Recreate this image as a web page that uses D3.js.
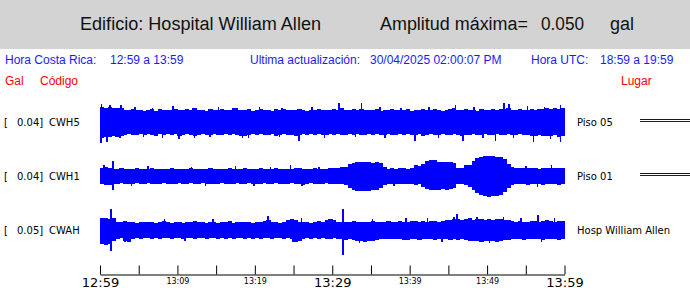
<!DOCTYPE html>
<html><head><meta charset="utf-8">
<script src="https://cdn.jsdelivr.net/npm/d3@7"></script>
<style>html,body{margin:0;padding:0;background:#fff;overflow:hidden}</style>
</head><body><svg id="c" width="690" height="288"></svg>
<script>
// ---------- data ----------
const stations = ["CWH5", "CWH1", "CWAH"];
const maxGal = ["0.04", "0.04", "0.05"];
const places = ["Piso 05", "Piso 01", "Hosp William Allen"];
const hasMarker = [true, true, false];
// envelope in mGal, one value per 0.5 minute from 12:59
const CWH5_top = [30,29,31,28,29,28, 25,24,27,24,25,23, 24,26,23,27,24,25, 24,27,25,24,26,24, 28,24,25,23,27,25, 24,26,24,25,28,24, 25,24,27,23,25,26, 24,25,23,27,24,27, 24,25,24,26,25,23, 25,24,27,24,25,24, 26,24,28,25,24,26, 25,27,24,25,24,26, 23,25,24,26,24,25, 24,26,23,25,24,26, 25,24,26,25,23,25, 26,28,25,24,26,24, 25,23,26,24,25,26, 24,26,27,28,25,24, 26,25,24,27,25,26, 27,28,26,28,27,29];
const CWH5_bot = [32,30,29,28,30,28, 25,24,26,25,24,26, 24,25,27,24,25,24, 26,24,28,25,24,26, 27,25,24,26,25,24, 25,26,24,25,24,26, 28,27,26,24,25,24, 26,25,24,27,25,24, 25,26,28,25,24,26, 24,25,24,26,25,24, 25,24,26,25,24,26, 24,25,26,24,25,24, 26,25,24,25,26,24, 25,24,26,25,24,27, 25,24,26,25,24,26, 25,24,26,27,26,25, 24,26,25,24,26,25, 24,26,25,24,26,25, 24,26,25,27,28,26, 27,28,27,26,29,28];
const CWH1_top = [17,19,16, 15,14,16,15,14,15,16,14,15, 15,16,14,15,15,14,16,15,14, 15,14,16,15,15,14,15,16,14, 15,15,14,16,15,14,15,16,15, 14,15,16,14,15,15,16,14,15, 15,14,16,17,15,14,15,16,15, 14,15,16, 16,17,18,19, 25,27,28,29,28,29,27,28,26, 19, 15,16,15,17,16,15,16, 22,20, 25,31,33,32,29,28,29,28,27, 17,16,22, 23,31,36,38,40,41,40,39,38,34,25, 18,17,16,17,16,17,16,15,17,16,17,16,17,16];
const CWH1_bot = [16,18,17, 15,16,14,15,16,15,14,15,16, 14,15,16,15,14,16,15,15,14, 16,15,14,15,16,14,15,15,16, 15,14,16,15,15,14,16,15,14, 15,16,15,14,15,16,14,15,15, 16,14,15,15,17,15,14,16,15, 15,14,15, 15,16,16,17, 23,28,30,30,29,30,28,27,24, 18, 15,16,15,16,15,16,15, 17,16, 21,25,27,28,27,26,27,25,23, 16,15,17, 21,28,33,37,39,41,40,39,37,31,23, 17,16,15,16,17,16,15,16,17,16,15,16,17,16];
const CWAH_top = [24,25,23,24, 17,16,18,16,17,15,16,17, 16,17,15,16,18,16,15,17, 16,15,17,16,18,16,17,15, 17,16,15,17,16,18,15,16, 16,17,16,15,17,16,18,20, 17,16,15,17,21,23,20,17, 16,17,15,16,18,16,21,22, 20,17,16,17,16,18,17,16, 17,16,18,17,16,17,18,16, 17,18,16,17,19,18,17,18, 17,18,19,17,18,20,21,22, 23,21,22,24,21,22,23,21, 22,21,23,22,21,20,18,17, 18,17,16,18,19,17,18,20, 19,17,18,19];
const CWAH_bot = [28,30,27,22, 17,16,22,23,17,16,17,16, 15,17,16,18,16,15,17,16, 16,17,15,16,17,16,15,17, 16,15,17,16,18,16,17,16, 15,17,16,18,16,17,15,16, 17,16,15,17,16,18,23,22, 17,16,18,16,17,16,18,17, 16,18,17,19,18,20,22,21, 23,22,21,20,18,17,18,17, 18,17,19,20,18,17,19,18, 17,18,19,17,18,17,19,18, 19,18,20,21,22,21,23,22, 21,22,23,22,20,19,18,17, 18,19,17,18,17,18,19,18, 17,18,19,18];
// isolated peaks: [minutes after 12:59, mGal]
const CWH5_up = [[0.2,37],[1.3,34],[2.7,34],[4.5,30],[6.8,29],[9.4,32],[12.0,29],[15.3,30],[17.7,29],[20.6,30],[23.5,29],[27.4,31],[30.9,38],[33.8,38],[36.2,30],[38.9,29],[42.5,31],[45.9,35],[48.3,31],[52.2,38],[52.8,36],[55.2,32],[57.4,31],[59.5,35]];
const CWH5_down = [[0.1,42],[0.9,39],[2.6,31],[5.6,30],[8.1,31],[10.2,34],[12.2,32],[14.2,30],[18.4,32],[19.2,31],[23.2,29],[25.7,37],[29.0,31],[33.0,30],[36.8,31],[40.7,37],[43.7,32],[46.9,38],[49.5,31],[51.1,37],[53.4,32],[56.0,39],[58.2,33],[59.5,39]];
const CWH1_up = [[0.5,23],[1.7,30],[6.2,20],[11.8,19],[17.5,20],[22.0,19],[24.6,22],[28.3,19],[55.0,21],[58.3,22]];
const CWH1_down = [[1.7,28],[4.1,20],[13.6,19],[19.9,20],[26.1,20],[38.0,20],[56.5,21]];
const CWAH_up = [[1.45,42],[8.3,23],[14.6,22],[21.7,29],[26.0,24],[31.4,43],[35.2,23],[39.5,24],[42.3,25],[45.7,27],[46.1,33],[48.7,27],[52.1,27],[54.4,24],[56.6,30],[58.7,25]];
const CWAH_down = [[1.0,30],[1.45,41],[3.2,24],[11.0,22],[24.9,24],[31.4,49],[33.5,25],[44.2,24],[50.3,25],[57.0,23]];
const tickMinutes = [0,5,10,15,20,25,30,35,40,45,50,55,60];
const tickLabels = ["12:59","","13:09","","13:19","","13:29","","13:39","","13:49","","13:59"];
const bigLabels = ["12:59","13:29","13:59"];

const tops = [CWH5_top, CWH1_top, CWAH_top];
const bots = [CWH5_bot, CWH1_bot, CWAH_bot];
const ups = [CWH5_up, CWH1_up, CWAH_up];
const downs = [CWH5_down, CWH1_down, CWAH_down];

// ---------- drawing ----------
const svg = d3.select("#c");
const start = new Date(2025, 3, 30, 12, 59);
const at = m => new Date(start.getTime() + m * 60000);
const x = d3.scaleTime().domain([start, at(60)]).range([100, 564.5]);
const yc = d3.scalePoint().domain(stations).range([122, 230]);
const amp = d3.scaleLinear().domain([0, 50]).range([0, 25]); // mGal -> px
const STEP = 0.5;
const BLUE = "#0000ff";

// header
svg.append("rect").attr("x", 0).attr("y", 0).attr("width", 690).attr("height", 49).attr("fill", "#d3d3d3");
const hdr = [["Edificio: Hospital William Allen", 80, 241], ["Amplitud máxima=", 380, 148], ["0.050", 541, 43], ["gal", 610, 24]];
svg.selectAll("text.h").data(hdr).join("text").attr("class", "h")
  .attr("x", d => d[1]).attr("y", 30)
  .attr("font-family", "Liberation Sans, Arial, sans-serif").attr("font-size", 18).attr("fill", "#111")
  .attr("textLength", d => d[2]).attr("lengthAdjust", "spacingAndGlyphs")
  .text(d => d[0]);

const blueRow = [["Hora Costa Rica:", 5], ["12:59 a 13:59", 110], ["Ultima actualización:", 250], ["30/04/2025 02:00:07 PM", 370], ["Hora UTC:", 531], ["18:59 a 19:59", 600]];
svg.selectAll("text.b").data(blueRow).join("text").attr("class", "b")
  .attr("x", d => d[1]).attr("y", 64)
  .attr("font-family", "Liberation Sans, Arial, sans-serif").attr("font-size", 12).attr("fill", "#1a1aff")
  .text(d => d[0]);
const redRow = [["Gal", 5], ["Código", 40], ["Lugar", 621]];
svg.selectAll("text.r").data(redRow).join("text").attr("class", "r")
  .attr("x", d => d[1]).attr("y", 85)
  .attr("font-family", "Liberation Sans, Arial, sans-serif").attr("font-size", 12).attr("fill", "#ff0000")
  .text(d => d[0]);

// traces
stations.forEach((s, k) => {
  const c = yc(s);
  const g = svg.append("g").attr("shape-rendering", "crispEdges");
  g.selectAll("rect.e").data(tops[k]).join("rect").attr("class", "e")
    .attr("x", (d, i) => x(at(i * STEP)))
    .attr("width", (d, i) => x(at((i + 1) * STEP)) - x(at(i * STEP)) + 0.3)
    .attr("y", d => c - amp(d))
    .attr("height", (d, i) => amp(d) + amp(bots[k][i]))
    .attr("fill", BLUE);
  g.selectAll("rect.u").data(ups[k]).join("rect").attr("class", "u")
    .attr("x", d => x(at(d[0])) - 0.75).attr("width", 1.5)
    .attr("y", d => c - amp(d[1])).attr("height", d => amp(d[1]))
    .attr("fill", BLUE);
  g.selectAll("rect.d").data(downs[k]).join("rect").attr("class", "d")
    .attr("x", d => x(at(d[0])) - 0.75).attr("width", 1.5)
    .attr("y", c).attr("height", d => amp(d[1]))
    .attr("fill", BLUE);

  const lf = "DejaVu Sans, Verdana, sans-serif";
  svg.append("text").attr("x", 4).attr("y", c + 4).attr("font-family", lf).attr("font-size", 10).text("[");
  svg.append("text").attr("x", 17).attr("y", c + 4).attr("font-family", lf).attr("font-size", 10).text(maxGal[k] + "]");
  svg.append("text").attr("x", 49).attr("y", c + 4).attr("font-family", lf).attr("font-size", 10).text(s);
  svg.append("text").attr("x", 577).attr("y", c + 4).attr("font-family", lf).attr("font-size", 10).text(places[k]);
  if (hasMarker[k]) {
    svg.append("line").attr("x1", 640).attr("x2", 690).attr("y1", c - 2.5).attr("y2", c - 2.5).attr("stroke", "#0000d0").attr("stroke-width", 1);
    svg.append("line").attr("x1", 640).attr("x2", 690).attr("y1", c - 0.5).attr("y2", c - 0.5).attr("stroke", "#0000ff").attr("stroke-width", 1);
  }
});

// time axis
const axis = d3.axisBottom(x).tickValues(tickMinutes.map(at))
  .tickSizeInner(-9).tickSizeOuter(0)
  .tickFormat((d, i) => tickLabels[i]);
const ag = svg.append("g").attr("transform", "translate(0,274.5)").call(axis);
ag.select(".domain").attr("stroke", "#000");
ag.selectAll(".tick line").attr("stroke", "#000");
ag.selectAll(".tick text")
  .attr("fill", "#000").attr("font-family", "DejaVu Sans, Verdana, sans-serif")
  .attr("dy", 0)
  .attr("font-size", function() { return bigLabels.includes(this.textContent) ? 13 : 8; })
  .attr("y", function() { return bigLabels.includes(this.textContent) ? 12 : 9; });
</script></body></html>
